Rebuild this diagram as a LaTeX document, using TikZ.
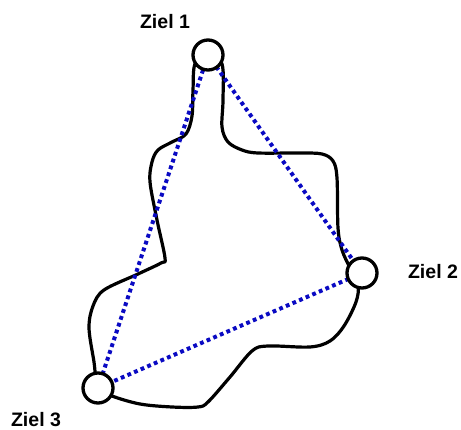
\documentclass[tikz,border=0pt]{standalone}
\usepackage{fontspec}
\setmainfont{Liberation Sans}
\begin{document}
\begin{tikzpicture}[x=1pt,y=-1pt,
  ziel/.style={circle,draw=black,fill=white,line width=3.3pt,minimum size=30pt,inner sep=0pt},
  lbl/.style={font=\bfseries\fontsize{19.5}{22}\selectfont,anchor=base,inner sep=0pt},
  route/.style={draw=dotblue,line width=4pt,dash pattern=on 3.8pt off 3.4pt},
  path/.style={line width=3.2pt,line join=round}]
\definecolor{dotblue}{RGB}{10,10,195}
\useasboundingbox (0,0) rectangle (461,430);
% walking path
\draw[path] plot[smooth cycle,tension=0.55] coordinates {
 (208,55) (222,64) (223,100) (222,127) (228,142) (242,150) (258,153) (300,153)
 (322,154) (333,161) (337,178) (338,228) (342,250) (350,268) (358,285)
 (356,302) (344,326) (330,341) (310,347) (268,346) (252,351) (230,377)
 (208,402) (198,407) (172,407) (140,404) (112,396) (98,388) (94,362)
 (89,328) (93,306) (104,290) (138,274) (161,263) (165,258) (157,220)
 (150,182) (152,162) (158,150) (172,142) (186,134) (192,116) (193,90) (195,64)};
% coordinates of goals
\coordinate (p1) at (208,55);
\coordinate (p2) at (362,273);
\coordinate (p3) at (98,388);
\draw[route] (p1) -- (p2);
\draw[route] (p2) -- (p3);
\draw[route] (p3) -- (p1);
\node[ziel] (z1) at (p1) {};
\node[ziel] (z2) at (p2) {};
\node[ziel] (z3) at (p3) {};
\node[lbl] (l1) at (165,28.3) {Ziel 1};
\node[lbl] (l2) at (433,278.3) {Ziel 2};
\node[lbl] (l3) at (36,427) {Ziel 3};
\end{tikzpicture}
\end{document}
